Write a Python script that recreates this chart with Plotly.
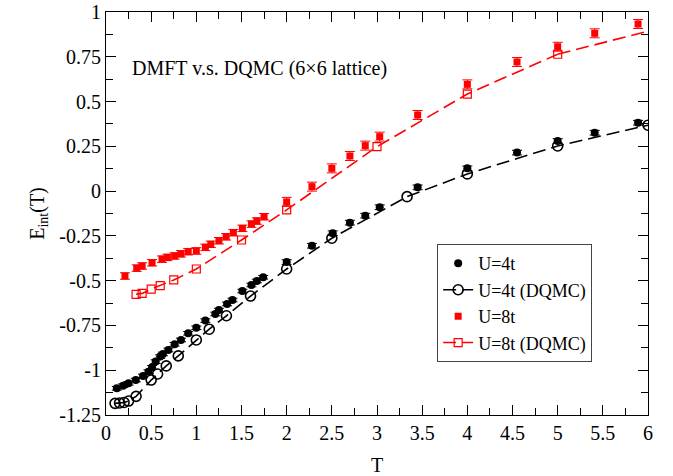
import plotly.graph_objects as go

# ---------------- data ----------------
t_u4 = [0.12, 0.19, 0.25, 0.33, 0.41, 0.47, 0.51, 0.55, 0.60, 0.63, 0.69, 0.76, 0.83, 0.91,
        1.00, 1.10, 1.21, 1.25, 1.34, 1.40, 1.51, 1.61, 1.67, 1.74, 2.00, 2.28, 2.51, 2.70,
        2.87, 3.03, 3.45, 4.00, 4.55, 5.00, 5.41, 5.89]
e_u4 = [-1.101, -1.086, -1.073, -1.055, -1.032, -1.008, -0.984, -0.952, -0.924, -0.909,
        -0.887, -0.855, -0.831, -0.794, -0.763, -0.723, -0.686, -0.664, -0.630, -0.608,
        -0.558, -0.524, -0.502, -0.481, -0.396, -0.305, -0.235, -0.176, -0.137, -0.090,
        0.021, 0.127, 0.215, 0.280, 0.326, 0.382]
err_u4 = [0.010] * 24 + [0.013] * 12

t_u4_dqmc = [0.10, 0.15, 0.20, 0.25, 0.333, 0.50, 0.571, 0.667, 0.80, 1.00, 1.143, 1.333,
             1.60, 2.00, 2.50, 3.333, 4.00, 5.00, 6.00]
e_u4_dqmc = [-1.185, -1.183, -1.180, -1.172, -1.146, -1.055, -1.021, -0.976, -0.920, -0.831,
             -0.771, -0.696, -0.586, -0.435, -0.263, -0.031, 0.096, 0.252, 0.368]

t_u8 = [0.21, 0.34, 0.40, 0.51, 0.62, 0.68, 0.76, 0.83, 0.91, 1.00, 1.10, 1.16, 1.25, 1.33,
        1.41, 1.51, 1.61, 1.67, 1.75, 2.00, 2.28, 2.50, 2.70, 2.87, 3.03, 3.45, 4.00, 4.55,
        5.00, 5.41, 5.89]
e_u8 = [-0.474, -0.430, -0.418, -0.400, -0.380, -0.370, -0.362, -0.350, -0.338, -0.334,
        -0.314, -0.297, -0.277, -0.255, -0.232, -0.208, -0.184, -0.167, -0.143, -0.060,
        0.025, 0.127, 0.196, 0.254, 0.304, 0.425, 0.596, 0.721, 0.806, 0.881, 0.933]
err_u8 = [0.018] * 19 + [0.025] * 12

t_u8_dqmc = [0.333, 0.40, 0.50, 0.60, 0.75, 1.00, 1.50, 2.00, 3.00, 4.00, 5.00]
e_u8_dqmc = [-0.576, -0.571, -0.547, -0.528, -0.496, -0.435, -0.273, -0.105, 0.248, 0.542, 0.764]
# DQMC curve continues (without symbol) to the right edge
t_u8_dqmc_tail = [5.00, 6.00]
e_u8_dqmc_tail = [0.764, 0.893]

x_tickvals = [0, 0.5, 1, 1.5, 2, 2.5, 3, 3.5, 4, 4.5, 5, 5.5, 6]
x_ticktext = ["0", "0.5", "1", "1.5", "2", "2.5", "3", "3.5", "4", "4.5", "5", "5.5", "6"]
y_tickvals = [-1.25, -1, -0.75, -0.5, -0.25, 0, 0.25, 0.5, 0.75, 1]
y_ticktext = ["-1.25", "-1", "-0.75", "-0.5", "-0.25", "0", "0.25", "0.5", "0.75", "1"]

FONT = "Liberation Serif, Times New Roman, Times, serif"
DASH = "13px,6px"

fig = go.Figure()

fig.add_trace(go.Scatter(
    x=t_u4, y=e_u4, mode="markers", name="U=4t",
    marker=dict(symbol="circle", size=8, color="black"),
    error_y=dict(type="data", array=err_u4, color="black", thickness=1, width=5),
))
fig.add_trace(go.Scatter(
    x=t_u4_dqmc, y=e_u4_dqmc, mode="lines+markers", name="U=4t (DQMC)",
    line=dict(color="black", width=1.6, dash=DASH),
    marker=dict(symbol="circle-open", size=10, color="black", line=dict(width=1.6)),
))
fig.add_trace(go.Scatter(
    x=t_u8, y=e_u8, mode="markers", name="U=8t",
    marker=dict(symbol="square", size=7, color="red"),
    error_y=dict(type="data", array=err_u8, color="red", thickness=1, width=5),
))
fig.add_trace(go.Scatter(
    x=t_u8_dqmc, y=e_u8_dqmc, mode="lines+markers", name="U=8t (DQMC)",
    line=dict(color="red", width=1.6, dash=DASH),
    marker=dict(symbol="square-open", size=8, color="red", line=dict(width=1.2)),
))
fig.add_trace(go.Scatter(
    x=t_u8_dqmc_tail, y=e_u8_dqmc_tail, mode="lines", showlegend=False,
    line=dict(color="red", width=1.6, dash=DASH), hoverinfo="skip",
))

axis_common = dict(
    showline=True, linecolor="black", linewidth=1, mirror="allticks",
    ticks="inside", ticklen=10, tickwidth=1, tickcolor="black",
    showgrid=False, zeroline=False, automargin=False,
    tickfont=dict(family=FONT, size=20, color="black"),
)

fig.update_xaxes(
    range=[0, 6], tickmode="array", tickvals=x_tickvals, ticktext=x_ticktext,
    minor=dict(dtick=0.25, tick0=0, ticks="inside", ticklen=7, tickcolor="black", showgrid=False),
    title=dict(text="T", font=dict(family=FONT, size=20, color="black"), standoff=14),
    **axis_common,
)
fig.update_yaxes(
    range=[-1.25, 1], tickmode="array", tickvals=y_tickvals, ticktext=y_ticktext,
    minor=dict(dtick=0.125, tick0=0, ticks="inside", ticklen=7, tickcolor="black", showgrid=False),
    title=dict(text="E<sub>int</sub>(T)", font=dict(family=FONT, size=20, color="black"), standoff=9),
    **axis_common,
)

fig.add_annotation(
    x=0.044, y=0.861, xref="paper", yref="paper", xanchor="left", yanchor="middle",
    text="DMFT v.s. DQMC (6\u00d76 lattice)", showarrow=False,
    font=dict(family=FONT, size=20, color="black"),
)

fig.update_layout(
    width=673, height=476,
    margin=dict(l=106, r=25, t=12, b=61),
    paper_bgcolor="white", plot_bgcolor="white",
    font=dict(family=FONT, size=20, color="black"),
    showlegend=True,
    legend=dict(
        x=0.611, y=0.424, xanchor="left", yanchor="top",
        bgcolor="white", bordercolor="#444444", borderwidth=1,
        font=dict(family=FONT, size=18, color="black"),
        tracegroupgap=0, itemsizing="trace", itemwidth=30,
    ),
)

# remove the default page margin so the figure sits at the window's top-left corner
fig.write_html("out.html", config={"displayModeBar": False},
               post_script="document.body.style.margin='0';")
